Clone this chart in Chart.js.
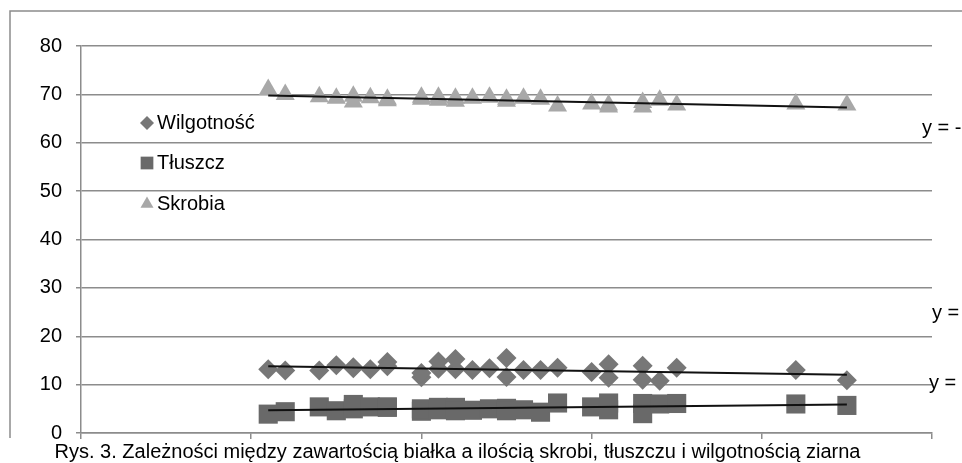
<!DOCTYPE html>
<html>
<head>
<meta charset="utf-8">
<script src="https://cdn.jsdelivr.net/npm/chart.js@4/dist/chart.umd.min.js"></script>
<style>
  html, body { margin: 0; padding: 0; background: #fff; }
  #wrap { position: relative; width: 962px; height: 463px; overflow: hidden; }
  #c { position: absolute; left: 0; top: 0; }
  #caption {
    position: absolute; left: 0; width: 915px; top: 440px;
    text-align: center; white-space: nowrap; line-height: 23px;
    font: 20px "Liberation Sans", Arial, sans-serif; color: #000;
  }
</style>
</head>
<body>
<div id="wrap">
  <canvas id="c" width="962" height="463"></canvas>
  <div id="caption">Rys. 3. Zależności między zawartością białka a ilością skrobi, tłuszczu i wilgotnością ziarna</div>
</div>
<script>
// Zawartość białka w próbkach ziarna (%)
const protein    = [8.2, 8.4, 8.8, 9.0, 9.2, 9.2, 9.4, 9.6, 9.6, 10.0, 10.0, 10.2, 10.2, 10.4, 10.4, 10.6,
                    10.8, 11.0, 11.0, 11.2, 11.4, 11.6, 12.0, 12.2, 12.2, 12.6, 12.6, 12.8, 13.0, 14.4, 15.0];
// Wilgotność ziarna (%)
const wilgotnosc = [13.2, 12.9, 12.9, 14.0, 13.6, 13.4, 13.2, 14.7, 13.8, 11.5, 12.4, 14.8, 13.3, 15.3, 13.2, 13.0,
                    13.4, 15.5, 11.6, 13.0, 13.0, 13.5, 12.6, 14.2, 11.4, 13.9, 11.0, 10.8, 13.5, 13.0, 10.9];
// Zawartość tłuszczu (%)
const tluszcz    = [3.9, 4.4, 5.4, 4.6, 5.9, 5.0, 5.4, 5.3, 5.4, 4.5, 5.0, 5.3, 4.8, 5.3, 4.6, 4.7,
                    5.0, 5.1, 4.6, 4.8, 4.3, 6.2, 5.4, 6.2, 4.8, 6.1, 4.0, 6.0, 6.1, 6.0, 5.7];
// Zawartość skrobi (%)
const skrobia    = [71.0, 70.0, 69.5, 69.2, 69.6, 68.4, 69.3, 69.0, 68.7, 69.4, 69.0, 69.4, 68.8, 69.2, 68.6, 69.2,
                    69.4, 69.0, 68.6, 69.2, 69.0, 67.6, 68.0, 67.8, 67.4, 68.3, 67.4, 68.8, 67.8, 68.0, 67.8];

const seriesNames = ['Wilgotność', 'Tłuszcz', 'Skrobia'];
const xTicks = [6, 8, 10, 12, 14, 16];
const yTicks = [0, 10, 20, 30, 40, 50, 60, 70, 80];

const AXIS_GREY = '#8c8c8c';
const COLORS = { w: '#777777', t: '#696969', s: '#a8a8a8' };

const pts = (ys) => protein.map((x, i) => ({ x, y: ys[i] }));

// Least-squares linear trend, drawn across the range of measured protein values
function trend(ys) {
  const n = protein.length;
  const mx = protein.reduce((a, b) => a + b, 0) / n;
  const my = ys.reduce((a, b) => a + b, 0) / n;
  let sxy = 0, sxx = 0;
  protein.forEach((x, i) => { sxy += (x - mx) * (ys[i] - my); sxx += (x - mx) * (x - mx); });
  const a = sxy / sxx, b = my - a * mx;
  const x0 = Math.min(...protein), x1 = Math.max(...protein);
  return { a, b, line: [{ x: x0, y: a * x0 + b }, { x: x1, y: a * x1 + b }] };
}
const trW = trend(wilgotnosc), trT = trend(tluszcz), trS = trend(skrobia);

function eqText(t) {
  const f = (v) => Math.abs(v).toFixed(4).replace('.', ',');
  return 'y = ' + (t.a < 0 ? '-' : '') + f(t.a) + 'x ' + (t.b < 0 ? '- ' : '+ ') + f(t.b);
}

const trendDs = (t) => ({
  type: 'line', data: t.line, borderColor: '#111111', borderWidth: 2,
  pointRadius: 0, fill: false, tension: 0
});

// Frame, in-plot legend and trend equations
const decor = {
  id: 'decor',
  beforeDraw(chart) {
    const ctx = chart.ctx;
    ctx.save();
    ctx.strokeStyle = AXIS_GREY;
    ctx.lineWidth = 1.5;
    ctx.beginPath();
    ctx.moveTo(10, 438); ctx.lineTo(10, 11); ctx.lineTo(962, 11);
    ctx.stroke();
    ctx.restore();
  },
  afterDraw(chart) {
    const ctx = chart.ctx;
    ctx.save();
    ctx.font = '20px "Liberation Sans", Arial, sans-serif';
    ctx.textBaseline = 'middle';
    ctx.fillStyle = '#000';
    const rows = [
      { name: seriesNames[0], style: 'rectRot', r: 7, color: COLORS.w, y: 123 },
      { name: seriesNames[1], style: 'rect', r: 9, color: COLORS.t, y: 163 },
      { name: seriesNames[2], style: 'triangle', r: 7.5, color: COLORS.s, y: 204 }
    ];
    rows.forEach(row => {
      ctx.fillStyle = row.color;
      Chart.helpers.drawPoint(ctx, { pointStyle: row.style, radius: row.r, rotation: 0, borderWidth: 0 }, 147, row.y);
      ctx.fillStyle = '#000';
      ctx.fillText(row.name, 157, row.y);
    });
    ctx.fillText(eqText(trS), 922, 128);
    ctx.fillText(eqText(trW), 932, 313);
    ctx.fillText(eqText(trT), 929, 383);
    ctx.restore();
  }
};

new Chart(document.getElementById('c'), {
  type: 'scatter',
  data: {
    datasets: [
      trendDs(trS), trendDs(trW), trendDs(trT),
      { label: seriesNames[2], data: pts(skrobia), pointStyle: 'triangle', pointRadius: 11,
        backgroundColor: COLORS.s, borderWidth: 0 },
      { label: seriesNames[1], data: pts(tluszcz), pointStyle: 'rect', pointRadius: 13.5,
        backgroundColor: COLORS.t, borderWidth: 0 },
      { label: seriesNames[0], data: pts(wilgotnosc), pointStyle: 'rectRot', pointRadius: 10,
        backgroundColor: COLORS.w, borderWidth: 0 }
    ]
  },
  options: {
    responsive: false,
    animation: false,
    events: [],
    layout: { padding: { top: 46, left: 0, right: 30, bottom: 0 } },
    plugins: { legend: { display: false }, tooltip: { enabled: false }, title: { display: false } },
    scales: {
      x: {
        type: 'linear', min: xTicks[0], max: xTicks[xTicks.length - 1],
        afterBuildTicks: (s) => { s.ticks = xTicks.map(v => ({ value: v })); },
        afterFit: (s) => { s.height = 30; },
        ticks: { display: false },
        grid: { drawOnChartArea: false, drawTicks: true, tickLength: 6, color: AXIS_GREY, lineWidth: 1.5 },
        border: { display: true, color: AXIS_GREY, width: 1.5 }
      },
      y: {
        min: 0, max: 80,
        afterBuildTicks: (s) => { s.ticks = yTicks.map(v => ({ value: v })); },
        afterFit: (s) => { s.width = 81; },
        ticks: { color: '#000', padding: 14, font: { family: '"Liberation Sans", Arial, sans-serif', size: 20 } },
        grid: { color: AXIS_GREY, lineWidth: 1.5, tickLength: 5, drawTicks: true },
        border: { display: true, color: AXIS_GREY, width: 1.5 }
      }
    }
  },
  plugins: [decor]
});
</script>
</body>
</html>
